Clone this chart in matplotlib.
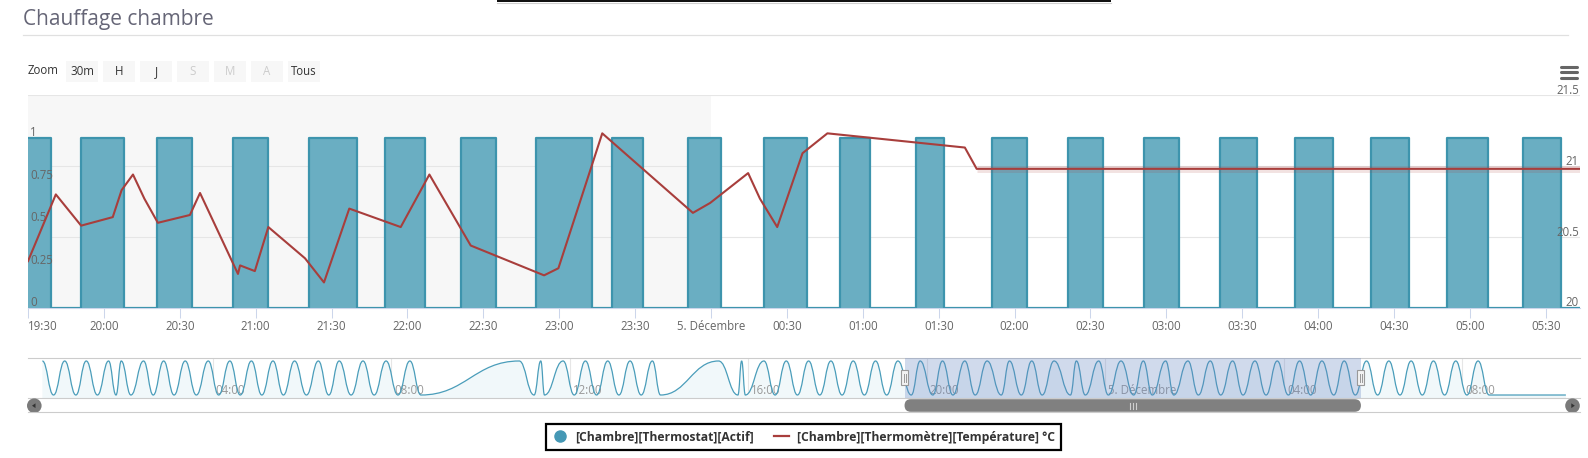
import matplotlib
matplotlib.use("Agg")
import matplotlib.pyplot as plt
import matplotlib.dates as mdates
import matplotlib.transforms as mtrans
from matplotlib.path import Path
from matplotlib.patches import PathPatch, Rectangle, Circle, FancyBboxPatch, Polygon
from matplotlib.lines import Line2D
import pandas as pd

W, H = 1588, 458
plt.rcParams['font.family'] = ['Open Sans', 'DejaVu Sans']

# thermostat on/off periods (state 1 between on and off)
actif_on = [
    "12-04 00:11", "12-04 00:41", "12-04 01:10", "12-04 01:40", "12-04 01:57", "12-04 02:27",
    "12-04 02:54", "12-04 03:23", "12-04 03:54", "12-04 04:23", "12-04 04:52", "12-04 05:21",
    "12-04 05:50", "12-04 06:22", "12-04 06:50", "12-04 07:22", "12-04 07:53", "12-04 08:25",
    "12-04 10:52", "12-04 11:21", "12-04 11:51", "12-04 12:21", "12-04 12:51", "12-04 13:21",
    "12-04 13:51", "12-04 15:20", "12-04 15:51", "12-04 16:21", "12-04 16:51", "12-04 17:21",
    "12-04 17:51", "12-04 18:21", "12-04 18:51", "12-04 19:21", "12-04 19:51", "12-04 20:21",
    "12-04 20:51", "12-04 21:21", "12-04 21:51", "12-04 22:21", "12-04 22:51", "12-04 23:21",
    "12-04 23:51", "12-05 00:21", "12-05 00:51", "12-05 01:21", "12-05 01:51", "12-05 02:21",
    "12-05 02:51", "12-05 03:21", "12-05 03:51", "12-05 04:21", "12-05 04:51", "12-05 05:21",
    "12-05 05:51", "12-05 06:21", "12-05 06:51", "12-05 07:21", "12-05 07:51", "12-05 08:21",
]
actif_off = [
    "12-04 00:26", "12-04 00:56", "12-04 01:25", "12-04 01:50", "12-04 02:10", "12-04 02:40",
    "12-04 03:08", "12-04 03:38", "12-04 04:08", "12-04 04:37", "12-04 05:06", "12-04 05:35",
    "12-04 06:06", "12-04 06:36", "12-04 07:06", "12-04 07:37", "12-04 08:09", "12-04 08:40",
    "12-04 11:12", "12-04 11:26", "12-04 12:06", "12-04 12:36", "12-04 13:06", "12-04 13:36",
    "12-04 14:02", "12-04 15:46", "12-04 15:56", "12-04 16:36", "12-04 17:06", "12-04 17:36",
    "12-04 18:06", "12-04 18:36", "12-04 19:06", "12-04 19:39", "12-04 20:08", "12-04 20:35",
    "12-04 21:05", "12-04 21:40", "12-04 22:07", "12-04 22:35", "12-04 23:13", "12-04 23:33",
    "12-05 00:04", "12-05 00:38", "12-05 01:03", "12-05 01:32", "12-05 02:05", "12-05 02:35",
    "12-05 03:05", "12-05 03:36", "12-05 04:06", "12-05 04:36", "12-05 05:07", "12-05 05:36",
    "12-05 06:06", "12-05 06:36", "12-05 07:06", "12-05 07:36", "12-05 08:06", "12-05 08:36",
]
actif_last = "12-05 10:19"

temp_times = [
    "12-04 19:30", "12-04 19:41", "12-04 19:51", "12-04 20:03:30", "12-04 20:07", "12-04 20:11:30",
    "12-04 20:16", "12-04 20:21:20", "12-04 20:34", "12-04 20:38", "12-04 20:53", "12-04 20:53:50",
    "12-04 20:59:40", "12-04 21:05", "12-04 21:19:30", "12-04 21:27", "12-04 21:37", "12-04 21:57:20",
    "12-04 22:08:40", "12-04 22:25", "12-04 22:54", "12-04 22:59:40", "12-04 23:17", "12-04 23:52:50",
    "12-04 23:59:40", "12-05 00:14:40", "12-05 00:19:20", "12-05 00:26:10", "12-05 00:36:10",
    "12-05 00:46", "12-05 01:40:20", "12-05 01:45", "12-05 05:45",
]
temp_values = [
    20.33, 20.80, 20.58, 20.64, 20.83, 20.94,
    20.77, 20.60, 20.655, 20.81, 20.24, 20.30,
    20.26, 20.57, 20.35, 20.18, 20.70, 20.57,
    20.94, 20.44, 20.23, 20.28, 21.23, 20.67,
    20.74, 20.95, 20.77, 20.57, 21.09,
    21.23, 21.13, 20.98, 20.98,
]

actif_ticks = [0, 0.25, 0.5, 0.75, 1]
temp_ticks = [20, 20.5, 21, 21.5]
x_ticks = pd.date_range("2015-12-04 19:30", "2015-12-05 05:30", freq="30min")
x_labels = ["5. Décembre" if (t.hour, t.minute) == (0, 0) else t.strftime("%H:%M") for t in x_ticks]
nav_ticks = pd.date_range("2015-12-04 04:00", "2015-12-05 08:00", freq="4h")
nav_labels = ["5. Décembre" if t.hour == 0 else t.strftime("%H:%M") for t in nav_ticks]
zoom_buttons = ["30m", "H", "J", "S", "M", "A", "Tous"]
zoom_enabled = [True, True, True, False, False, False, True]

view_start = pd.Timestamp("2015-12-04 19:30")
view_end = pd.Timestamp("2015-12-05 05:43:30")
nav_start = pd.Timestamp("2015-12-03 23:51:40")
nav_end = pd.Timestamp("2015-12-05 10:38")
midnight = pd.Timestamp("2015-12-05 00:00")

TEAL_FILL = "#6aaec2"
TEAL_EDGE = "#3d94ad"
RED = "#a83e3c"
LABEL = "#666666"

on = pd.to_datetime(["2015-" + s for s in actif_on])
off = pd.to_datetime(["2015-" + s for s in actif_off])
actif_t = []
actif_s = []
for a, b in zip(on, off):
    actif_t += [a, b]
    actif_s += [1, 0]
actif_t.append(pd.Timestamp("2015-" + actif_last))
actif_s.append(0)
temp_t = pd.to_datetime(["2015-" + s for s in temp_times], format="mixed")


def rect(x0, y0, x1, y1):
    return [x0 / W, 1 - y1 / H, (x1 - x0) / W, (y1 - y0) / H]


fig = plt.figure(figsize=(W / 100, H / 100), dpi=100)

# --- main chart: three stacked layers sharing the same box
main_box = rect(28, 95, 1580, 308)
axg = fig.add_axes(main_box)
ax = fig.add_axes(main_box, sharex=axg)
axt = fig.add_axes(main_box, sharex=axg)
for a in (ax, axt):
    a.patch.set_visible(False)
for a in (axg, ax, axt):
    for sp in a.spines.values():
        sp.set_visible(False)
    a.tick_params(left=False, right=False, labelleft=False, labelright=False)
axg.set_xlim(view_start, view_end)
axg.set_ylim(20, 21.5)
ax.set_ylim(0, 1.25)
axt.set_ylim(20, 21.5)

axg.axvspan(view_start, midnight, color="#f7f7f7", zorder=0, lw=0)
axg.set_yticks(temp_ticks)
axg.grid(axis="y", color="#e6e6e6", lw=0.8)
axg.spines["bottom"].set_visible(True)
axg.spines["bottom"].set_color("#ccd6eb")
axg.set_xticks(x_ticks)
axg.set_xticklabels(x_labels)
axg.tick_params(axis="x", length=7.2, width=0.75, color="#ccd6eb", labelcolor=LABEL,
                labelsize=8.3, pad=1.5)
axg.get_xticklabels()[0].set_horizontalalignment("left")
for a in (ax, axt):
    a.tick_params(bottom=False, labelbottom=False)

ax.fill_between(actif_t, actif_s, step="post", color=TEAL_FILL, lw=0, zorder=2)
ax.step(actif_t, actif_s, where="post", color=TEAL_EDGE, lw=1.6, zorder=3)

halo = [t >= pd.Timestamp("2015-12-05 01:45") for t in temp_t]
axt.plot(temp_t[halo], [v for v, h in zip(temp_values, halo) if h], color=RED, lw=5,
         alpha=0.15, solid_capstyle="butt")
axt.plot(temp_t, temp_values, color=RED, lw=1.5, solid_joinstyle="round")

left_tr = mtrans.offset_copy(mtrans.blended_transform_factory(ax.transAxes, ax.transData),
                             fig=fig, x=2, y=1.5, units="dots")
for v in actif_ticks:
    ax.text(0, v, f"{v:g}", transform=left_tr, ha="left", va="baseline",
            fontsize=8.3, color=LABEL)
right_tr = mtrans.offset_copy(mtrans.blended_transform_factory(axt.transAxes, axt.transData),
                              fig=fig, x=-1, y=1.5, units="dots")
for v in temp_ticks:
    axt.text(1, v, f"{v:g}", transform=right_tr, ha="right", va="baseline",
             fontsize=8.3, color=LABEL)

# --- navigator
nav = fig.add_axes(rect(28, 358, 1580, 398))
nav.set_xlim(nav_start, nav_end)
nav.set_ylim(-0.088, 1.088)
nav.tick_params(left=False, bottom=False, labelleft=False, labelbottom=False)
for k in ("left", "right"):
    nav.spines[k].set_visible(False)
for k in ("top", "bottom"):
    nav.spines[k].set_color("#cccccc")
for t in nav_ticks:
    nav.axvline(t, color="#e6e6e6", lw=0.8, zorder=0)
lab_tr = mtrans.offset_copy(mtrans.blended_transform_factory(nav.transData, nav.transAxes),
                            fig=fig, x=3, y=0, units="dots")
for t, s in zip(nav_ticks, nav_labels):
    nav.text(t, 0.2, s, transform=lab_tr, ha="left", va="center", fontsize=8.3,
             color="#999999", zorder=1)

xs = mdates.date2num(actif_t)
verts = [(xs[0], actif_s[0])]
codes = [Path.MOVETO]
for x0, y0, x1, y1 in zip(xs[:-1], actif_s[:-1], xs[1:], actif_s[1:]):
    h = (x1 - x0) * 0.45
    verts += [(x0 + h, y0), (x1 - h, y1), (x1, y1)]
    codes += [Path.CURVE4] * 3
fill_verts = verts + [(xs[-1], -0.088), (xs[0], -0.088), (xs[0], actif_s[0])]
fill_codes = codes + [Path.LINETO, Path.LINETO, Path.CLOSEPOLY]
nav.add_patch(PathPatch(Path(fill_verts, fill_codes), fc="#f1f8fa", ec="none", zorder=0.5))
nav.add_patch(PathPatch(Path(verts, codes), fc="none", ec="#4a9dba", lw=0.9, zorder=2))
nav.axvspan(view_start, view_end, color="#6685c2", alpha=0.3, lw=0, zorder=3)

# --- overlay in pixel coordinates for page chrome
ov = fig.add_axes([0, 0, 1, 1], zorder=10)
ov.set_xlim(0, W)
ov.set_ylim(H, 0)
ov.axis("off")
ov.patch.set_visible(False)

ov.add_patch(Rectangle((497, 0), 614, 2.2, color="#111111", lw=0))
ov.plot([497, 1111], [3, 3], color="#d0d0d0", lw=0.8)
ov.text(23, 20, "Chauffage chambre", fontsize=15, color="#666677", ha="left", va="center")
ov.plot([23, 1568], [35, 35], color="#e0e0e0", lw=0.9)

ov.text(28, 71, "Zoom", fontsize=8.3, color="#333333", ha="left", va="center")
for i, (lab, en) in enumerate(zip(zoom_buttons, zoom_enabled)):
    x0 = 66 + i * 37
    ov.add_patch(Rectangle((x0, 61), 32, 21, fc="#f7f7f7", ec="none"))
    ov.text(x0 + 16, 71.5, lab, fontsize=8.3, color="#333333" if en else "#cccccc",
            ha="center", va="center")

for y in (66.5, 72, 77.5):
    ov.plot([1561, 1577], [y, y], color="#666666", lw=2.2, solid_capstyle="round")


def to_px(t):
    return nav.transData.transform((mdates.date2num(t), 0))[0]


hx0, hx1 = to_px(view_start), to_px(view_end)
# scrollbar
ov.plot([28, 1580], [412.3, 412.3], color="#cccccc", lw=0.8)
ov.add_patch(FancyBboxPatch((hx0, 399.2), hx1 - hx0, 12.6,
                            boxstyle="round,pad=0,rounding_size=6.3", fc="#808080", ec="none"))
cx = (hx0 + hx1) / 2
for d in (-3, 0, 3):
    ov.plot([cx + d, cx + d], [402.5, 408.5], color="#cfcfcf", lw=0.8)
ov.add_patch(Circle((34.3, 405.7), 7.3, fc="#7a7a7a", ec="none"))
ov.add_patch(Polygon([(32, 405.7), (35.5, 403.3), (35.5, 408.1)], fc="#333333", ec="none"))
ov.add_patch(Circle((1572.5, 405.7), 7.3, fc="#7a7a7a", ec="none"))
ov.add_patch(Polygon([(1574.8, 405.7), (1571.3, 403.3), (1571.3, 408.1)], fc="#333333", ec="none"))
# navigator handles
for hx in (hx0, hx1):
    ov.add_patch(Rectangle((hx - 3.5, 370), 7, 15, fc="#f2f2f2", ec="#999999", lw=0.8))
    for d in (-1, 1):
        ov.plot([hx + d, hx + d], [373.5, 381.5], color="#999999", lw=0.7)

# --- legend
handles = [
    Line2D([], [], ls="none", marker="o", markersize=8, color="#4598b5"),
    Line2D([], [], color=RED, lw=1.6),
]
labels = ["[Chambre][Thermostat][Actif]", "[Chambre][Thermomètre][Température] °C"]
leg = fig.legend(handles, labels, loc="center", bbox_to_anchor=(803.5 / W, 1 - 437 / H),
                 ncol=2, frameon=True, fancybox=False, framealpha=1, edgecolor="black",
                 handlelength=1.25, handletextpad=0.6, columnspacing=1.7, borderpad=0.55,
                 prop={"family": ["Liberation Sans Narrow", "Open Sans", "DejaVu Sans"],
                       "weight": "bold", "size": 8.75})
leg.get_frame().set_linewidth(1.6)
for txt in leg.get_texts():
    txt.set_color("#333333")

fig.savefig("out.png", dpi=100)
